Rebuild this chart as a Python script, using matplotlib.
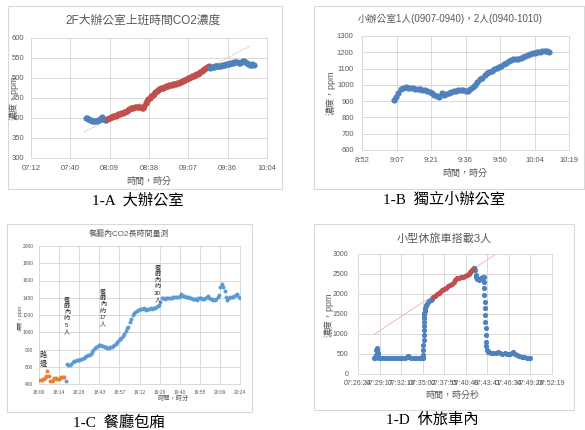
import numpy as np
import matplotlib
matplotlib.use("Agg")
import matplotlib.pyplot as plt
from matplotlib.patches import Rectangle

# ---- 1-A: large office, one reading per minute (minute of day) ----
a_blue1_start = 7 * 60 + 52
a_blue1 = [401, 400, 398, 396, 394, 393, 393, 392, 393, 394, 396, 399, 402, 398, 395, 394]
a_red_start = 8 * 60 + 8
a_red = [398, 399, 401, 402, 404, 405, 406,
         408, 410, 409, 412, 413,
         414, 416, 418, 421, 422,
         424, 425, 426, 427, 427,
         428, 427, 427, 426, 424,
         430, 438, 443, 447, 451,
         455, 458, 461, 465, 468,
         470, 472, 474, 475, 476,
         477, 479, 480, 482, 483,
         483, 484, 485, 486, 487,
         488, 490, 491, 493, 494,
         496, 498, 500, 501, 502,
         504, 505, 507, 509, 511,
         513, 515, 518, 521, 523,
         525, 527, 529]
a_blue2_start = 9 * 60 + 23
a_blue2 = [526, 527, 527, 528, 529, 529, 530,
           531, 531, 532, 533, 533, 534, 535,
           536, 537, 538, 538, 539, 539, 539,
           538, 538, 539, 542, 543, 540, 537,
           535, 533, 532, 534, 532]
a_trend_t = [7 * 60 + 51, 9 * 60 + 53]
a_trend_v = [365, 581]
a_tick_days = [0.30, 0.32, 0.34, 0.36, 0.38, 0.40, 0.42]
a_tick_labels = ["07:12", "07:40", "08:09", "08:38", "09:07", "09:36", "10:04"]

# ---- 1-B: small office ----
b_start = 9 * 60 + 6
b_vals = [910, 924, 950, 972, 982, 985, 983, 981, 979, 976,
          974, 972, 969, 966, 961, 956, 949, 940, 931, 927,
          953, 938, 944, 950, 955, 960, 965, 967, 967, 966,
          965, 964, 972, 988, 1000, 1018, 1034, 1045, 1060, 1070,
          1080, 1087, 1095, 1103, 1110, 1118, 1128, 1137, 1145, 1152,
          1156, 1158, 1160, 1164, 1170, 1177, 1184, 1190, 1195, 1198,
          1200, 1204, 1207, 1209, 1206, 1203]
b_tick_days = [0.37, 0.38, 0.39, 0.40, 0.41, 0.42, 0.43]
b_tick_labels = ["8:52", "9:07", "9:21", "9:36", "9:50", "10:04", "10:19"]

# ---- 1-C: restaurant room ----
c_orange_start = 18 * 60 + 1
c_orange = [448, 452, 458, 470, 490, 548, 488, 440, 432, 452,
            465, 468, 460, 462, 468, 478, 485, 482]
c_blue_start = 18 * 60 + 19
c_blue = [430, 632, 625, 620, 632, 655, 668, 672, 674, 678,
          684, 690, 694, 700, 712, 722, 734, 742, 750, 772,
          798, 815, 828, 840, 850, 848, 842, 836, 830, 824,
          818, 820, 826, 832, 840, 850, 868, 888, 905, 920,
          935, 955, 980, 1020, 1045, 1065, 1115, 1150, 1200, 1225,
          1240, 1252, 1260, 1266, 1270, 1274, 1278, 1266, 1262, 1268,
          1272, 1276, 1274, 1278, 1276, 1290, 1300, 1320, 1345, 1400,
          1395, 1390, 1395, 1398, 1400, 1396, 1400, 1405, 1410, 1406,
          1412, 1410, 1425, 1440, 1425, 1415, 1412, 1408, 1404, 1400,
          1395, 1390, 1386, 1382, 1378, 1392, 1400, 1395, 1388, 1385,
          1400, 1412, 1420, 1395, 1388, 1384, 1378, 1370, 1385, 1405,
          1430, 1520, 1555, 1520, 1480, 1410, 1375, 1395, 1410, 1412,
          1408, 1420, 1432, 1440, 1405, 1395]
c_tick_days = [0.75, 0.76, 0.77, 0.78, 0.79, 0.80, 0.81, 0.82, 0.83, 0.84, 0.85]
c_tick_labels = ["18:00", "18:14", "18:28", "18:43", "18:57", "19:12",
                 "19:26", "19:40", "19:55", "20:09", "20:24"]
c_notes = ["路邊", "餐廳內約5人", "餐廳內約17人", "餐廳內約30人"]
c_note_t = [18 * 60 + 3, 18 * 60 + 20, 18 * 60 + 46, 19 * 60 + 25]
c_note_v = [770, 1420, 1510, 1790]

# ---- 1-D: SUV cabin, seconds after 07:28:00 ----
d_t0 = 7 * 3600 + 28 * 60
d_blue_t = [30, 40, 48, 52, 56, 60, 64, 68, 72,
            80, 100, 120, 140, 160, 180, 200, 220, 240, 260,
            280, 295, 305, 315, 330, 350, 370, 390, 410, 422,
            427, 428, 429, 430, 431, 432, 433, 434, 435, 436,
            437, 439, 441, 444, 448, 453, 460, 468, 477, 487, 497,
            832, 836, 842, 847, 852, 860, 870, 880, 890, 900,
            906, 911, 913, 915, 917, 919, 921, 923, 925, 927,
            929, 931, 934, 938, 944, 952, 970, 990, 1010, 1025,
            1040, 1060, 1080, 1095, 1110, 1125, 1140, 1150, 1160, 1175,
            1195, 1215, 1235, 1255, 1275, 1285]
d_blue_v = [400, 405, 480, 600, 650, 610, 520, 450, 400,
            395, 392, 390, 392, 390, 388, 390, 392, 390, 392,
            395, 420, 440, 420, 395, 392, 390, 392, 393, 400,
            480, 600, 720, 850, 980, 1100, 1200, 1300, 1400, 1470,
            1530, 1580, 1620, 1660, 1700, 1730, 1760, 1790, 1820, 1850, 1880,
            2645, 2660, 2600, 2480, 2420, 2380, 2360, 2370, 2390, 2410,
            2430, 2420, 2300, 2140, 1980, 1810, 1640, 1480, 1310, 1140,
            980, 810, 690, 600, 560, 540, 530, 520, 530, 545,
            520, 510, 525, 505, 495, 490, 520, 540, 510, 470,
            450, 430, 420, 405, 395, 390]
d_red_t = [505, 520, 535, 550, 565, 580, 595, 610, 625, 640,
           655, 670, 680, 690, 700, 715, 730, 745, 760, 775,
           790, 800, 810, 820, 826]
d_red_v = [1930, 1960, 2000, 2030, 2060, 2090, 2120, 2160, 2190, 2220,
           2250, 2290, 2340, 2370, 2390, 2410, 2420, 2430, 2450, 2480,
           2510, 2540, 2570, 2600, 2625]
d_trend_t = [37, 1010]
d_trend_v = [1000, 3000]
d_tick_days = [0.310, 0.312, 0.314, 0.316, 0.318, 0.320, 0.322, 0.324, 0.326, 0.328]
d_tick_labels = ["07:26:24", "07:29:17", "07:32:10", "07:35:02", "07:37:55",
                 "07:40:48", "07:43:41", "07:46:34", "07:49:26", "07:52:19"]

BLUE, RED = "#4f81bd", "#c0504d"
C_BLUE, C_ORANGE = "#5b9bd5", "#ed7d31"
TREND = "#f2b8b8"
GRID = "#d9d9d9"
TXT = "#595959"
CJK = ["Liberation Sans", "Noto Sans CJK TC"]
SERIF = ["Liberation Serif", "Noto Sans CJK TC"]

plt.rcParams["font.family"] = CJK

W, H = 585, 430
fig = plt.figure(figsize=(W / 100, H / 100), dpi=100)


def add_ax(l, t, r, b):
    return fig.add_axes([l / W, 1 - b / H, (r - l) / W, (b - t) / H])


def frame(l, t, r, b):
    fig.add_artist(Rectangle((l / W, 1 - b / H), (r - l) / W, (b - t) / H,
                             transform=fig.transFigure, fill=False,
                             ec=GRID, lw=0.8))


def ftext(x, y, s, **kw):
    kw.setdefault("ha", "center")
    kw.setdefault("va", "center")
    return fig.text(x / W, 1 - y / H, s, **kw)


def style(ax, ticks, labels, ylo, yhi, ystep, fs, xpad, ypad):
    ax.set_xlim(ticks[0], ticks[-1])
    ax.set_xticks(ticks)
    ax.set_xticklabels(labels)
    ax.set_ylim(ylo, yhi)
    ax.set_yticks(np.arange(ylo, yhi + 1, ystep))
    ax.grid(True, color=GRID, lw=0.7)
    ax.set_axisbelow(True)
    for sp in ax.spines.values():
        sp.set_color(GRID)
        sp.set_linewidth(0.7)
    ax.tick_params(length=0, labelsize=fs, colors=TXT)
    ax.tick_params(axis="x", pad=xpad)
    ax.tick_params(axis="y", pad=ypad)


def minutes(start, vals):
    return start + np.arange(len(vals))


# ---------------- 1-A ----------------
frame(8, 6, 282, 189)
ax = add_ax(31, 38, 267, 158)
ax.plot(a_trend_t, a_trend_v, color=TREND, lw=0.7, ls=(0, (2, 1)))
ax.scatter(minutes(a_blue1_start, a_blue1), a_blue1, s=20, c=BLUE, lw=0, zorder=3)
ax.scatter(minutes(a_red_start, a_red), a_red, s=20, c=RED, lw=0, zorder=3)
ax.scatter(minutes(a_blue2_start, a_blue2), a_blue2, s=20, c=BLUE, lw=0, zorder=3)
style(ax, np.array(a_tick_days) * 1440, a_tick_labels, 300, 600, 50, 5.5, 5, 5)
ftext(143, 21, "2F大辦公室上班時間CO2濃度", fontsize=8.5, color=TXT)
ftext(149, 181, "時間，時分", fontsize=6.5, color=TXT)
ftext(14, 98, "濃度，ppm", fontsize=6.5, color=TXT, rotation=90)
ftext(138, 200, "1-A  大辦公室", fontsize=11, family=SERIF)

# ---------------- 1-B ----------------
frame(314, 6, 584, 189)
ax = add_ax(362, 36, 569, 150)
ax.scatter(minutes(b_start, b_vals), b_vals, s=20, c=BLUE, lw=0, zorder=3)
style(ax, np.array(b_tick_days) * 1440, b_tick_labels, 600, 1300, 100, 5.5, 5, 6)
ftext(450, 19, "小辦公室1人(0907-0940)，2人(0940-1010)", fontsize=7, color=TXT)
ftext(465, 173, "時間，時分", fontsize=6.5, color=TXT)
ftext(331, 93, "濃度，ppm", fontsize=6.5, color=TXT, rotation=90)
ftext(444, 200, "1-B  獨立小辦公室", fontsize=11, family=SERIF)

# ---------------- 1-C ----------------
frame(7, 224, 252, 412)
ax = add_ax(39, 246, 240, 384)
ax.scatter(minutes(c_orange_start, c_orange), c_orange, s=8, c=C_ORANGE, lw=0, zorder=3)
ax.scatter(minutes(c_blue_start, c_blue), c_blue, s=8, c=C_BLUE, lw=0, zorder=3)
style(ax, np.array(c_tick_days) * 1440, c_tick_labels, 400, 2000, 200, 3.5, 4, 4)
for i, (note, t, v) in enumerate(zip(c_notes, c_note_t, c_note_v)):
    parts = list(note) if i == 0 else list(note[:4]) + [note[4:-1], note[-1]]
    ax.text(t, v, "\n".join(parts), ha="center", va="top",
            fontsize=5.2 if i == 0 else 4.4,
            linespacing=1.1 if i == 0 else 1.3, color="#262626", zorder=4)
ftext(129, 234, "餐廳內CO2長時間量測", fontsize=5.8, color=TXT)
ftext(173, 398, "時間，時分", fontsize=4.5, color=TXT)
ftext(20, 318, "濃度，ppm", fontsize=3.8, color=TXT, rotation=90)
ftext(119, 423, "1-C  餐廳包廂", fontsize=11, family=SERIF)

# ---------------- 1-D ----------------
frame(314, 224, 574, 410)
ax = add_ax(358, 254, 552, 374)
ax.plot(np.array(d_trend_t) + d_t0, d_trend_v, color=TREND, lw=0.7)
ax.scatter(np.array(d_blue_t) + d_t0, d_blue_v, s=14, c=BLUE, lw=0, zorder=3)
ax.scatter(np.array(d_red_t) + d_t0, d_red_v, s=14, c=RED, lw=0, zorder=3)
style(ax, np.array(d_tick_days) * 86400, d_tick_labels, 0, 3000, 500, 5, 4, 7)
ftext(444, 238, "小型休旅車搭載3人", fontsize=8, color=TXT)
ftext(452, 395, "時間，時分秒", fontsize=6.5, color=TXT)
ftext(329, 315, "濃度，ppm", fontsize=6.5, color=TXT, rotation=90)
ftext(432, 420, "1-D  休旅車內", fontsize=11, family=SERIF)

fig.savefig("out.png", dpi=100)
